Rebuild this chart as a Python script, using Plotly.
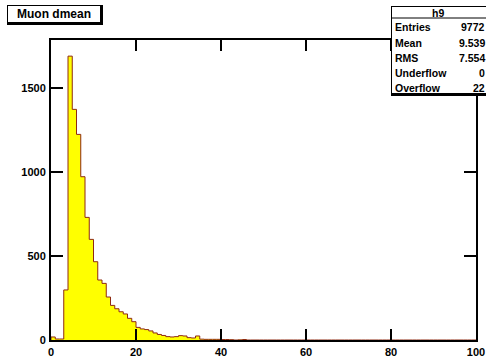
import plotly.graph_objects as go

# ---- data ----
bin_low = 0
bin_high = 100
counts = [
    18, 6, 6, 298, 1690, 1373, 1224, 972, 730, 599,
    466, 357, 337, 256, 206, 186, 168, 155, 129, 109,
    75, 66, 62, 54, 42, 33, 27, 20, 18, 20,
    26, 24, 14, 12, 24, 5, 4, 4, 4, 4,
    3, 3, 2, 0, 1, 3, 0, 0, 0, 0,
    0, 0, 0, 0, 0, 0, 0, 0, 0, 0,
    0, 0, 0, 0, 0, 0, 0, 0, 0, 0,
    0, 0, 0, 0, 0, 0, 0, 0, 0, 0,
    0, 0, 0, 0, 0, 0, 0, 0, 0, 0,
    0, 0, 0, 0, 0, 0, 0, 0, 0, 0,
]
x_ticks = [0, 20, 40, 60, 80, 100]
y_ticks = [0, 500, 1000, 1500]
title_text = "Muon dmean"
stats_name = "h9"
stats_labels = ["Entries", "Mean", "RMS", "Underflow", "Overflow"]
stats_values = ["9772", "9.539", "7.554", "0", "22"]

# ---- figure ----
W, H = 486, 358
L, R, T, B = 51, 10, 40, 18
PW, PH = W - L - R, H - T - B

def px(xp):
    return (xp - L) / PW

def py(yp):
    return (H - B - yp) / PH

nb = len(counts)
step = (bin_high - bin_low) / nb
edges = [bin_low + i * step for i in range(nb + 1)]
xs = [edges[0]] + edges
ys = [0] + counts + [0]

fig = go.Figure()
fig.add_trace(go.Scatter(
    x=xs, y=ys, mode="lines", line=dict(shape="hv", color="#8e2a12", width=1),
    fill="tozeroy", fillcolor="#ffff00", hoverinfo="skip", showlegend=False,
))

font_ax = dict(family="Liberation Sans, Arial, sans-serif", size=11, color="black", weight="bold")

fig.update_layout(
    width=W, height=H,
    margin=dict(l=L, r=R, t=T, b=B, pad=0, autoexpand=False),
    paper_bgcolor="white", plot_bgcolor="white",
    showlegend=False,
    xaxis=dict(range=[bin_low, bin_high], tickvals=x_ticks, ticktext=[str(v) for v in x_ticks],
               ticks="inside", ticklen=11, tickwidth=2, tickcolor="black",
               showline=True, linewidth=2, linecolor="black", mirror="ticks",
               showgrid=False, zeroline=False, tickfont=font_ax, ticklabelstandoff=1,
               automargin=False),
    yaxis=dict(range=[0, 1786], tickvals=y_ticks, ticktext=[str(v) for v in y_ticks],
               ticks="inside", ticklen=12, tickwidth=2, tickcolor="black",
               showline=True, linewidth=2, linecolor="black", mirror="ticks",
               showgrid=False, zeroline=False, tickfont=font_ax, ticklabelstandoff=1,
               automargin=False),
)

shapes = []
annos = []
# title box with shadow
shapes.append(dict(type="rect", xref="paper", yref="paper", x0=px(7), x1=px(103), y0=py(25), y1=py(5),
                   fillcolor="black", line=dict(width=0), layer="above"))
shapes.append(dict(type="rect", xref="paper", yref="paper", x0=px(8), x1=px(100), y0=py(22), y1=py(6),
                   fillcolor="white", line=dict(width=0), layer="above"))
annos.append(dict(text=title_text, xref="paper", yref="paper", x=px(54), y=py(14), showarrow=False,
                  xanchor="center", yanchor="middle",
                  font=dict(family="Liberation Sans, Arial, sans-serif", size=12, color="black", weight="bold")))

# stats box
shapes.append(dict(type="rect", xref="paper", yref="paper", x0=px(391), x1=px(492), y0=py(96), y1=py(6),
                   fillcolor="black", line=dict(width=0), layer="above"))
shapes.append(dict(type="rect", xref="paper", yref="paper", x0=px(392), x1=px(492), y0=py(93), y1=py(7),
                   fillcolor="white", line=dict(width=0), layer="above"))
shapes.append(dict(type="line", xref="paper", yref="paper", x0=px(391), x1=px(492), y0=py(18), y1=py(18),
                   line=dict(color="black", width=1), layer="above"))
sfont = dict(family="Liberation Sans, Arial, sans-serif", size=10.5, color="black", weight="bold")
annos.append(dict(text=stats_name, xref="paper", yref="paper", x=px(438), y=py(12.5), showarrow=False,
                  xanchor="center", yanchor="middle", font=sfont))
row_y = [27.3, 42.7, 58.3, 73.3, 88]
for lab, val, ry in zip(stats_labels, stats_values, row_y):
    annos.append(dict(text=lab, xref="paper", yref="paper", x=px(393), y=py(ry), showarrow=False,
                      xanchor="left", yanchor="middle", font=sfont))
    annos.append(dict(text=val, xref="paper", yref="paper", x=px(486), y=py(ry), showarrow=False,
                      xanchor="right", yanchor="middle", font=sfont, borderpad=0))

fig.update_layout(shapes=shapes, annotations=annos)
fig.write_html("out.html", config={"displayModeBar": False},
               post_script="document.body.style.margin='0';document.body.style.padding='0';")
